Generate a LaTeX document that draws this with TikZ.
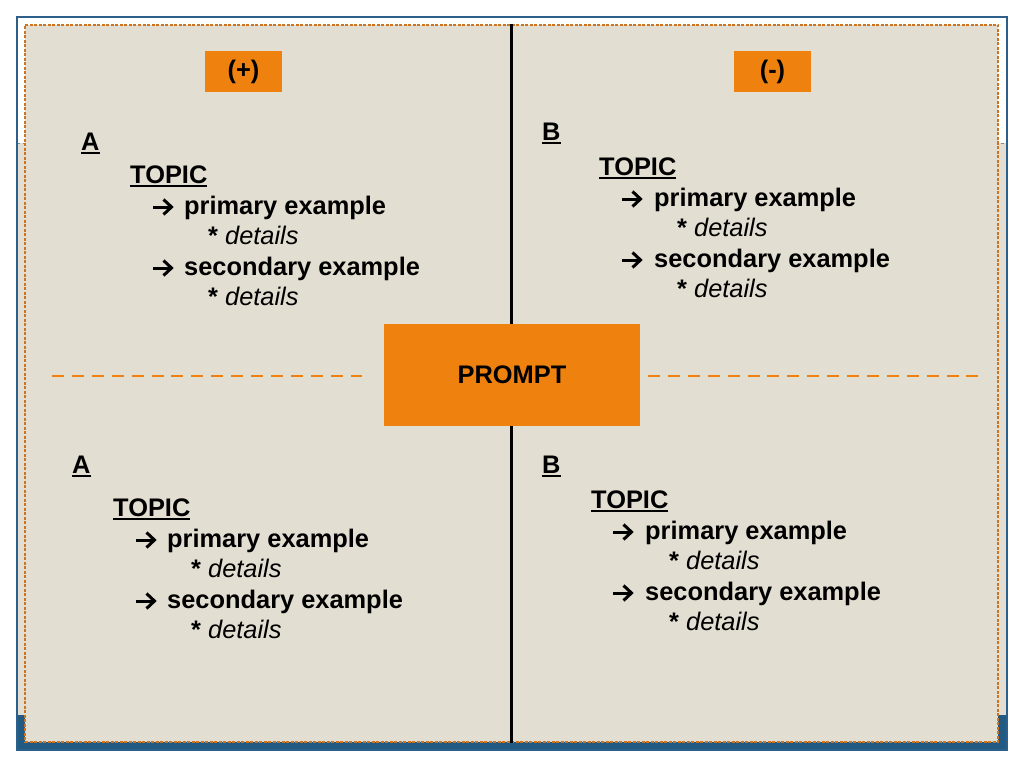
\documentclass[tikz,border=0pt]{standalone}
\usepackage{fontspec}
\setmainfont{Liberation Sans}
\definecolor{panelfill}{HTML}{E2DED1}
\definecolor{orangebox}{HTML}{EF820F}
\definecolor{framecol}{HTML}{2D5F8B}
\definecolor{bandcol}{HTML}{215A82}
\definecolor{panelborder}{HTML}{CC7422}
\newcommand\myul[1]{\setbox0\hbox{#1}\rlap{\rule[-3.5pt]{\wd0}{1.8pt}}\box0}
\tikzset{
  big/.style={font=\fontsize{25.4}{30}\selectfont\bfseries},
  line/.style={anchor=base west, inner sep=0pt, big},
  det/.style={anchor=base west, inner sep=0pt, font=\fontsize{25.4}{30}\selectfont},
  tag/.style={fill=orangebox, inner sep=0pt, minimum width=77pt, minimum height=41pt, big},
  divider/.style={orangebox, line width=2pt, dash pattern=on 12pt off 7.9pt},
  pics/rarrow/.style={code={
    \draw[line width=3pt] (0,0) -- (18,0);
    \draw[line width=3pt, line join=miter] (10.5,-7.5) -- (18.5,0) -- (10.5,7.5);
  }},
}
\begin{document}
\begin{tikzpicture}[x=1pt,y=-1pt]
\useasboundingbox (0,0) rectangle (1024,768);
% slide background
\fill[panelfill] (18,143) rectangle (1006,715);
\draw[framecol!70, line width=0.8pt, dashed] (17,143) -- (1007,143);
\fill[bandcol] (17,715) rectangle (1007,750);
\draw[framecol, line width=1.2pt] (17,17) rectangle (1007,750);
% panel
\node[fill=panelfill, draw=panelborder, line width=1.3pt, dash pattern=on 3pt off 1.5pt,
      minimum width=973pt, minimum height=717pt, inner sep=0pt] (panel) at (511.5,383.5) {};
\draw[black, line width=2.5pt] (panel.north) -- (panel.south);
% dashed dividers
\coordinate (l1) at (52,376); \coordinate (l2) at (362,376);
\coordinate (r1) at (648,376); \coordinate (r2) at (980,376);
\draw[divider] (l1) -- (l2);
\draw[divider] (r1) -- (r2);
% prompt
\node[fill=orangebox, inner sep=0pt, minimum width=256pt, minimum height=102pt, big] (prompt) at (512,375) {PROMPT};
% tags
\node[tag] (plus) at (243.5,71.5) {(+)};
\node[tag] (minus) at (772.5,71.5) {(-)};
% top-left
\node[line] (tlA) at (81,150) {\myul{A}};
\node[line] (tlT) at (130,183) {\myul{TOPIC}};
\pic (tla1) at (153,207) {rarrow};
\node[line] (tlp) at (184,214) {primary example};
\node[det] (tld1) at (208,244) {\textbf{*} \textit{details}};
\pic (tla2) at (153,268) {rarrow};
\node[line] (tls) at (184,275) {secondary example};
\node[det] (tld2) at (208,305) {\textbf{*} \textit{details}};
% top-right
\node[line] (trB) at (542,140) {\myul{B}};
\node[line] (trT) at (599,175) {\myul{TOPIC}};
\pic (tra1) at (622,199) {rarrow};
\node[line] (trp) at (654,206) {primary example};
\node[det] (trd1) at (677,236) {\textbf{*} \textit{details}};
\pic (tra2) at (622,260) {rarrow};
\node[line] (trs) at (654,267) {secondary example};
\node[det] (trd2) at (677,297) {\textbf{*} \textit{details}};
% bottom-left
\node[line] (blA) at (72,473) {\myul{A}};
\node[line] (blT) at (113,516) {\myul{TOPIC}};
\pic (bla1) at (136,540) {rarrow};
\node[line] (blp) at (167,547) {primary example};
\node[det] (bld1) at (191,577) {\textbf{*} \textit{details}};
\pic (bla2) at (136,601) {rarrow};
\node[line] (bls) at (167,608) {secondary example};
\node[det] (bld2) at (191,638) {\textbf{*} \textit{details}};
% bottom-right
\node[line] (brB) at (542,473) {\myul{B}};
\node[line] (brT) at (591,508) {\myul{TOPIC}};
\pic (bra1) at (613,532) {rarrow};
\node[line] (brp) at (645,539) {primary example};
\node[det] (brd1) at (669,569) {\textbf{*} \textit{details}};
\pic (bra2) at (613,593) {rarrow};
\node[line] (brs) at (645,600) {secondary example};
\node[det] (brd2) at (669,630) {\textbf{*} \textit{details}};
\end{tikzpicture}
\end{document}
